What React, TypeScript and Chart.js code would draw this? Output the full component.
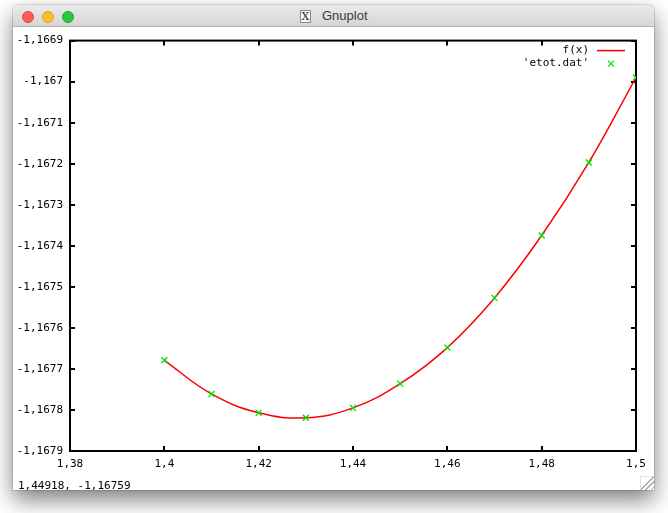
import React, { useEffect, useRef } from "react";
import { Chart, registerables } from "chart.js";

Chart.register(...registerables);

const xValues = [1.4, 1.41, 1.42, 1.43, 1.44, 1.45, 1.46, 1.47, 1.48, 1.49, 1.5];
const etotValues = [
  -1.167679, -1.167761, -1.167807, -1.167819, -1.167795, -1.167736,
  -1.167648, -1.167527, -1.167375, -1.167197, -1.16699,
];
const xTicks = [1.38, 1.4, 1.42, 1.44, 1.46, 1.48, 1.5];
const yTicks = [
  -1.1669, -1.167, -1.1671, -1.1672, -1.1673, -1.1674, -1.1675, -1.1676,
  -1.1677, -1.1678, -1.1679,
];
const seriesLabels = ["f(x)", "'etot.dat'"];
const statusText = "1,44918, -1,16759";

const MONO = "'DejaVu Sans Mono', monospace";
const RED = "#ff0000";
const GREEN = "#00e000";

function fmt(v: number): string {
  let s = v.toFixed(4);
  s = s.replace(/0+$/, "").replace(/\.$/, "");
  return s.replace(".", ",");
}

const framePlugin = {
  id: "gnuframe",
  beforeDatasetsDraw(chart: any) {
    const { ctx, chartArea: a, scales } = chart;
    ctx.save();
    ctx.strokeStyle = "#000";
    ctx.lineWidth = 2;
    const tl = 5;
    ctx.beginPath();
    for (const v of xTicks) {
      const px = Math.round(scales.x.getPixelForValue(v));
      ctx.moveTo(px, a.bottom);
      ctx.lineTo(px, a.bottom - tl);
      ctx.moveTo(px, a.top);
      ctx.lineTo(px, a.top + tl);
    }
    for (const v of yTicks) {
      const py = Math.round(scales.y.getPixelForValue(v));
      ctx.moveTo(a.left, py);
      ctx.lineTo(a.left + tl, py);
      ctx.moveTo(a.right, py);
      ctx.lineTo(a.right - tl, py);
    }
    ctx.stroke();
    ctx.strokeRect(a.left, a.top, a.right - a.left, a.bottom - a.top);
    ctx.restore();
  },
  afterDatasetsDraw(chart: any) {
    const { ctx, chartArea: a } = chart;
    ctx.save();
    ctx.font = "11px " + MONO;
    ctx.fillStyle = "#000";
    ctx.textAlign = "right";
    ctx.textBaseline = "middle";
    const tx = a.right - 47;
    const y0 = a.top + 10;
    const dy = 13;
    chart.data.datasets.forEach((ds: any, i: number) => {
      const y = y0 + dy * i;
      ctx.fillText(ds.label, tx, y);
      const sx0 = tx + 8;
      const sx1 = tx + 36;
      if (ds.showLine !== false && ds.pointRadius === 0) {
        ctx.strokeStyle = ds.borderColor;
        ctx.lineWidth = 1.5;
        ctx.beginPath();
        ctx.moveTo(sx0, y);
        ctx.lineTo(sx1, y);
        ctx.stroke();
      } else {
        ctx.strokeStyle = ds.borderColor;
        ctx.lineWidth = 1.3;
        const cx = (sx0 + sx1) / 2;
        const r = 3;
        ctx.beginPath();
        ctx.moveTo(cx - r, y - r);
        ctx.lineTo(cx + r, y + r);
        ctx.moveTo(cx - r, y + r);
        ctx.lineTo(cx + r, y - r);
        ctx.stroke();
      }
    });
    ctx.restore();
  },
};

function GnuChart() {
  const ref = useRef<HTMLCanvasElement | null>(null);
  useEffect(() => {
    if (!ref.current) return;
    const pts = xValues.map((x, i) => ({ x, y: etotValues[i] }));
    const chart = new Chart(ref.current, {
      type: "line",
      data: {
        datasets: [
          {
            label: seriesLabels[0],
            data: pts,
            borderColor: RED,
            borderWidth: 1.5,
            pointRadius: 0,
            tension: 0.4,
            fill: false,
            order: 2,
          },
          {
            label: seriesLabels[1],
            data: pts,
            showLine: false,
            borderColor: GREEN,
            backgroundColor: GREEN,
            pointStyle: "crossRot",
            pointRadius: 4.2,
            pointBorderWidth: 1.3,
            order: 1,
          } as any,
        ],
      },
      options: {
        animation: false,
        responsive: false,
        maintainAspectRatio: false,
        layout: { padding: { left: 0, top: 9, right: 18, bottom: 0 } },
        plugins: { legend: { display: false }, tooltip: { enabled: false } },
        scales: {
          x: {
            type: "linear",
            min: 1.38,
            max: 1.5,
            afterBuildTicks: (s: any) => {
              s.ticks = xTicks.map((v) => ({ value: v }));
            },
            afterFit: (s: any) => {
              s.height = 39;
            },
            grid: { display: false, drawTicks: false },
            border: { display: false },
            ticks: {
              padding: 7,
              color: "#000",
              font: { family: MONO, size: 11 },
              maxRotation: 0,
              autoSkip: false,
              callback: (v: any) => fmt(Number(v)),
            },
          },
          y: {
            type: "linear",
            min: -1.1679,
            max: -1.1669,
            afterBuildTicks: (s: any) => {
              s.ticks = yTicks.map((v) => ({ value: v }));
            },
            afterFit: (s: any) => {
              s.width = 57;
            },
            grid: { display: false, drawTicks: false },
            border: { display: false },
            ticks: {
              padding: 7,
              color: "#000",
              font: { family: MONO, size: 11 },
              autoSkip: false,
              callback: (v: any) => fmt(Number(v)),
            },
          },
        },
      },
      plugins: [framePlugin],
    });
    return () => chart.destroy();
  }, []);
  return <canvas ref={ref} width={641} height={463} style={{ position: "absolute", left: 0, top: 0 }} />;
}

function Light({ left, bg, bd }: { left: number; bg: string; bd: string }) {
  return (
    <div
      style={{
        position: "absolute",
        left: left - 6,
        top: 6,
        width: 12,
        height: 12,
        borderRadius: 6,
        background: bg,
        boxSizing: "border-box",
        border: "1px solid " + bd,
      }}
    />
  );
}

export default function App() {
  return (
    <div style={{ position: "fixed", left: 0, top: 0, width: 668, height: 513, background: "#fff", overflow: "hidden" }}>
      <div
        style={{
          position: "absolute",
          left: 13,
          top: 5,
          width: 641,
          height: 485,
          background: "#fff",
          borderRadius: "5px 5px 0 0",
          boxShadow: "0 10px 22px rgba(0,0,0,0.5), 0 0 0 1px rgba(0,0,0,0.12)",
        }}
      >
        <div
          style={{
            position: "absolute",
            left: 0,
            top: 0,
            width: 641,
            height: 22,
            borderRadius: "5px 5px 0 0",
            background: "linear-gradient(#ebebeb, #d5d5d5)",
            borderBottom: "1px solid #b4b4b4",
            boxSizing: "border-box",
          }}
        >
          <Light left={15} bg="#fd5f57" bd="#e0443e" />
          <Light left={35} bg="#febc2e" bd="#dea123" />
          <Light left={55} bg="#28c840" bd="#1aab29" />
          <div
            style={{
              position: "absolute",
              left: 287,
              top: 5,
              width: 11,
              height: 13,
              boxSizing: "border-box",
              border: "1px solid #8a8a8a",
              background: "#f6f6f6",
              fontFamily: "'DejaVu Serif', serif",
              fontSize: 11,
              lineHeight: "11px",
              textAlign: "center",
              color: "#222",
            }}
          >
            X
          </div>
          <div
            style={{
              position: "absolute",
              left: 309,
              top: 3,
              fontFamily: "'Liberation Sans', Arial, sans-serif",
              fontSize: 13,
              color: "#3c3c3c",
            }}
          >
            Gnuplot
          </div>
        </div>
        <div style={{ position: "absolute", left: 0, top: 22, width: 641, height: 463 }}>
          <GnuChart />
          <div
            style={{
              position: "absolute",
              left: 5,
              top: 452,
              fontFamily: MONO,
              fontSize: 11,
              color: "#000",
              whiteSpace: "pre",
            }}
          >
            {statusText}
          </div>
          <div
            style={{
              position: "absolute",
              right: 0,
              bottom: 0,
              width: 14,
              height: 14,
              boxSizing: "border-box",
              borderLeft: "1px solid #e2e2e2",
              borderTop: "1px solid #e2e2e2",
              background:
                "linear-gradient(135deg, transparent 45%, #aaa 45%, #aaa 52%, transparent 52%, transparent 65%, #aaa 65%, #aaa 72%, transparent 72%, transparent 85%, #aaa 85%, #aaa 92%, transparent 92%)",
            }}
          />
        </div>
      </div>
    </div>
  );
}
